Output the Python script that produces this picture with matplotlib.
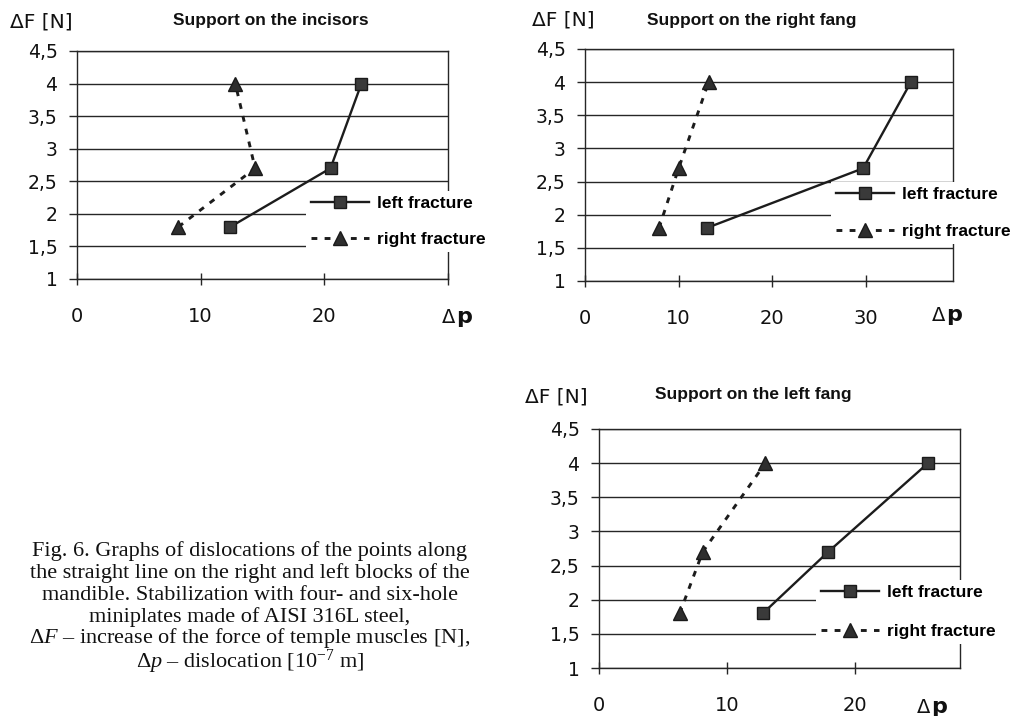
import matplotlib
matplotlib.use('Agg')
import matplotlib.pyplot as plt

W, H = 1016, 716
plt.rcParams['mathtext.fontset'] = 'custom'
plt.rcParams['mathtext.rm'] = 'Liberation Serif'
plt.rcParams['mathtext.it'] = 'Liberation Serif:italic'
plt.rcParams['font.family'] = ['DejaVu Sans']

# ---------------- data ----------------
force_levels = [1.8, 2.7, 4.0]
incisors_left = [12.4, 20.5, 23.0]
incisors_right = [8.2, 14.4, 12.8]
right_fang_left = [13.0, 29.7, 34.8]
right_fang_right = [7.9, 10.0, 13.2]
left_fang_left = [12.8, 17.9, 25.7]
left_fang_right = [6.3, 8.1, 13.0]

titles = ['Support on the incisors', 'Support on the right fang', 'Support on the left fang']
series_labels = ['left fracture', 'right fracture']
y_ticks = [1, 1.5, 2, 2.5, 3, 3.5, 4, 4.5]
y_tick_labels = ['1', '1,5', '2', '2,5', '3', '3,5', '4', '4,5']
x_ticks_1 = [0, 10, 20, 30]
x_tick_labels_1 = ['0', '10', '20', '']
x_ticks_2 = [0, 10, 20, 30]
x_tick_labels_2 = ['0', '10', '20', '30']
x_ticks_3 = [0, 10, 20]
x_tick_labels_3 = ['0', '10', '20']
y_axis_label = 'ΔF [N]'

caption_lines = [
    'Fig. 6. Graphs of dislocations of the points along',
    'the straight line on the right and left blocks of the',
    'mandible. Stabilization with four- and six-hole',
    'miniplates made of AISI 316L steel,',
    'Δ$F$ – increase of the force of temple muscles [N],',
    'Δ$p$ – dislocation [10$^{-7}$ m]',
]

# ---------------- layout ----------------
def fx(x):
    return x / W

def fy(y):
    return 1 - y / H

panels = [
    dict(box=(77, 51, 448, 279), xmax=30, xt=x_ticks_1, xtl=x_tick_labels_1,
         left=incisors_left, right=incisors_right, title=titles[0],
         leg=(306, 221.5), lsp=1.17, ylab=(10, 22), tpos=(271, 21),
         dp=(455, 323)),
    dict(box=(585, 49, 953, 281), xmax=39.3, xt=x_ticks_2, xtl=x_tick_labels_2,
         left=right_fang_left, right=right_fang_right, title=titles[1],
         leg=(831, 213), lsp=1.22, ylab=(532, 20), tpos=(752, 20),
         dp=(945, 321)),
    dict(box=(599, 429, 960, 668), xmax=28.2, xt=x_ticks_3, xtl=x_tick_labels_3,
         left=left_fang_left, right=left_fang_right, title=titles[2],
         leg=(816, 612), lsp=1.33, ylab=(525, 397), tpos=(753, 395),
         dp=(930, 713)),
]

dark = '#262626'
fig = plt.figure(figsize=(W / 100, H / 100), dpi=100)
fig.patch.set_facecolor('white')

for p in panels:
    l, t, r, b = p['box']
    ax = fig.add_axes([fx(l), fy(b), (r - l) / W, (b - t) / H])
    ax.set_xlim(0, p['xmax'])
    ax.set_ylim(1, 4.5)
    ax.set_yticks(y_ticks)
    ax.set_yticklabels(y_tick_labels)
    ax.set_xticks(p['xt'])
    ax.set_xticklabels(p['xtl'])
    ax.set_axisbelow(True)
    ax.yaxis.grid(True, color=dark, lw=1.0)
    for s in ax.spines.values():
        s.set_color(dark)
        s.set_linewidth(1.0)
    ax.tick_params(axis='y', direction='out', length=5.5, width=1, pad=8.5,
                   labelsize=13.5, colors=dark, labelcolor='#111111')
    ax.tick_params(axis='x', direction='inout', length=9, width=1, pad=16,
                   labelsize=14, colors=dark, labelcolor='#111111')

    h1, = ax.plot(p['left'], force_levels, linestyle='-', color='#1c1c1c', lw=1.7,
                  marker='s', ms=9, mfc='#3a3a3a', mec='#1a1a1a', mew=1,
                  clip_on=False, zorder=3)
    h2, = ax.plot(p['right'], force_levels, linestyle=(0, (2, 2.5)), color='#1c1c1c', lw=2.1,
                  marker='^', ms=10, mfc='#2e2e2e', mec='#1a1a1a', mew=1,
                  clip_on=False, zorder=3)

    ax.legend([h1, h2], series_labels, loc='center left',
              bbox_to_anchor=(fx(p['leg'][0]), fy(p['leg'][1])),
              bbox_transform=fig.transFigure, frameon=True, facecolor='white',
              edgecolor='none', framealpha=1, fancybox=False, borderpad=0.3,
              borderaxespad=0, handlelength=3.3, handletextpad=0.5,
              labelspacing=p['lsp'], numpoints=1,
              prop={'family': 'Liberation Sans', 'weight': 'bold', 'size': 12.5})

    fig.text(fx(p['ylab'][0]), fy(p['ylab'][1]), y_axis_label, ha='left', va='center',
             fontsize=14.5, color='#111111')
    fig.text(fx(p['tpos'][0]), fy(p['tpos'][1]), p['title'], ha='center', va='center',
             family='Liberation Sans', weight='bold', fontsize=12.5, color='#111111')
    fig.text(fx(p['dp'][0]), fy(p['dp'][1]), 'Δ', ha='right', va='baseline',
             fontsize=14, color='#111111')
    fig.text(fx(p['dp'][0] + 1), fy(p['dp'][1]), 'p', ha='left', va='baseline',
             fontsize=16, weight='bold', color='#111111')

baselines = [556, 578, 600, 622, 643, 668]
for line, yb in zip(caption_lines, baselines):
    fig.text(fx(250), fy(yb), line, ha='center', va='baseline',
             family='Liberation Serif', fontsize=16, color='#111111')

fig.savefig('out.png', dpi=100, facecolor='white')
